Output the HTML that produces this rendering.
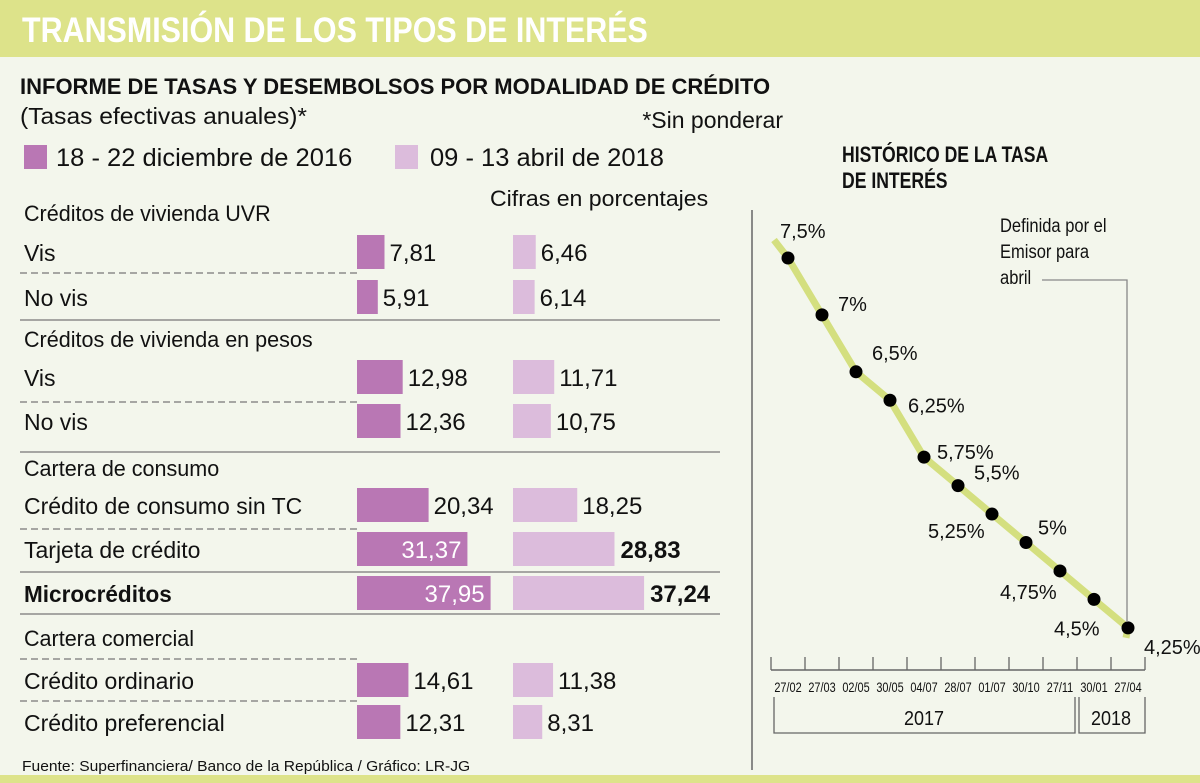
<!DOCTYPE html>
<html><head><meta charset="utf-8"><style>
html,body{margin:0;padding:0;background:#f3f6ec;}
svg{display:block;font-family:"Liberation Sans",sans-serif;}
</style></head><body>
<svg id="s" width="1200" height="783" viewBox="0 0 1200 783" xmlns="http://www.w3.org/2000/svg">
<rect x="0" y="0" width="1200" height="783" fill="#f3f6ec"/>
<rect x="0" y="0" width="1200" height="57" fill="#dde38a"/>
<rect x="0" y="775" width="1200" height="8" fill="#dde38a"/>
<line x1="752" y1="210" x2="752" y2="770" stroke="#666" stroke-width="1.5"/>
<g id="g"></g>
</svg>
<script>
// ---- left chart data ----
const rowLabels = ["Vis","No vis","Vis","No vis","Crédito de consumo sin TC","Tarjeta de crédito","Microcréditos","Crédito ordinario","Crédito preferencial"];
const series2016 = [7.81,5.91,12.98,12.36,20.34,31.37,37.95,14.61,12.31];
const series2018 = [6.46,6.14,11.71,10.75,18.25,28.83,37.24,11.38,8.31];
const valueText2016 = ["7,81","5,91","12,98","12,36","20,34","31,37","37,95","14,61","12,31"];
const valueText2018 = ["6,46","6,14","11,71","10,75","18,25","28,83","37,24","11,38","8,31"];
// ---- right chart data ----
const dateLabels = ["27/02","27/03","02/05","30/05","04/07","28/07","01/07","30/10","27/11","30/01","27/04"];
const rates = [7.5,7,6.5,6.25,5.75,5.5,5.25,5,4.75,4.5,4.25];
const rateText = ["7,5%","7%","6,5%","6,25%","5,75%","5,5%","5,25%","5%","4,75%","4,5%","4,25%"];

const NS="http://www.w3.org/2000/svg";
const g=document.getElementById('g');
function el(tag,attrs){const e=document.createElementNS(NS,tag);for(const k in attrs)e.setAttribute(k,attrs[k]);g.appendChild(e);return e;}
function txt(x,y,s,size,o){o=o||{};
  const e=el('text',{transform:`translate(${x},${y}) scale(${o.sx||1},1)`,'font-size':size,fill:o.fill||'#111','font-weight':o.w||'normal','text-anchor':o.a||'start'});
  e.textContent=s;return e;}

let e;
e=txt(22,42,"TRANSMISIÓN DE LOS TIPOS DE INTERÉS",35,{fill:'#fff',w:'bold',sx:0.87});


e=txt(20,94,"INFORME DE TASAS Y DESEMBOLSOS POR MODALIDAD DE CRÉDITO",22,{w:'bold',sx:1.0});


e=txt(20,124,"(Tasas efectivas anuales)*",23,{sx:1.07});


e=txt(783,128,"*Sin ponderar",23,{a:'end',sx:1.0});


e=el('rect',{x:24,y:145,width:23,height:24,fill:'#b977b4'});


e=txt(56,166,"18 - 22 diciembre de 2016",25,{sx:1.02});


e=el('rect',{x:395,y:145,width:23,height:24,fill:'#dcbcdc'});


e=txt(430,166,"09 - 13 abril de 2018",25,{sx:1.02});


e=txt(490,206,"Cifras en porcentajes",22,{sx:1.05});



const sections=[["Créditos de vivienda UVR",221],["Créditos de vivienda en pesos",347],["Cartera de consumo",476],["Cartera comercial",646]];
sections.forEach(s=>{e=txt(24,s[1],s[0],22,{sx:0.98});

});

const rowCenters=[252,297,377,421,505,549,593,680,722];
const sep=[[273,1],[320,0],[402,1],[452,0],[529,1],[572,0],[614,0],[659,1],[701,1]];
sep.forEach(l=>{e=el('line',{x1:20,y1:l[0],x2:l[1]?357:720,y2:l[0],stroke:'#777','stroke-width':1.3,'stroke-dasharray':l[1]?'7,4':'none'});

});

const X0a=357,X0b=513,K=3.52;
const xa=v=>v*K, xb=v=>v*K;
rowLabels.forEach((lab,i)=>{
  const cy=rowCenters[i];
  e=txt(24,cy+9,lab,23,{w:i===6?'bold':'normal',sx:i===6?0.98:1.0});
  
  
  const wa=xa(series2016[i]);
  e=el('rect',{x:X0a,y:cy-17,width:wa,height:34,fill:'#b977b4'});
  
  
  const inside=wa>100;
  e=txt(inside?X0a+wa-6:X0a+wa+5,cy+9,valueText2016[i],24,{fill:inside?'#fff':'#111',a:inside?'end':'start',sx:1.0});
  
  
  const wb=xb(series2018[i]);
  e=el('rect',{x:X0b,y:cy-17,width:wb,height:34,fill:'#dcbcdc'});
  
  
  e=txt(X0b+wb+(wb>90?6:5),cy+9,valueText2018[i],24,{w:wb>90?'bold':'normal',sx:1.0});
  
  
});
e=txt(22,771,"Fuente: Superfinanciera/ Banco de la República / Gráfico: LR-JG",15,{sx:1.04});



// right chart
e=txt(842,162,"HISTÓRICO DE LA TASA",22,{w:'bold',sx:0.8});


e=txt(842,188,"DE INTERÉS",22,{w:'bold',sx:0.8});



const px=i=>788+34*i;
const py=v=>258+(7.5-v)*113.8;
const pts=rates.map((v,i)=>[px(i),py(v)]);
const d="M"+(pts[0][0]-14)+","+(pts[0][1]-18)+" "+pts.map(p=>"L"+p[0]+","+p[1]).join(" ")+" L"+(pts[10][0]-2)+","+(pts[10][1]+10);
e=el('path',{d:d,fill:'none',stroke:'#d4df7f','stroke-width':7,'stroke-linejoin':'round'});


const off=[[-8,-28],[16,-12],[16,-20],[18,4],[13,-6],[16,-14],[-64,16],[12,-16],[-60,20],[-40,28],[16,18]];
pts.forEach((p,i)=>{
  e=el('circle',{cx:p[0],cy:p[1],r:6.5,fill:'#000'});
  
  
  e=txt(p[0]+off[i][0],p[1]+off[i][1]+8,rateText[i],20,{sx:1.0});
  
  
});
e=el('path',{d:"M1042,280 H1127 V622",fill:'none',stroke:'#888','stroke-width':1.3});


["Definida por el","Emisor para","abril"].forEach((s,i)=>{e=txt(1000,232+i*26,s,19,{sx:0.87});

});

e=el('line',{x1:771,y1:670,x2:1145,y2:670,stroke:'#666','stroke-width':1.5});


for(let i=0;i<=dateLabels.length;i++){e=el('line',{x1:771+34*i,y1:657,x2:771+34*i,y2:670,stroke:'#666','stroke-width':1.3});

}
dateLabels.forEach((s,i)=>{e=txt(px(i),692,s,14,{a:'middle',sx:0.78});

});
e=el('path',{d:"M774,697 V733 H1075 V697 M1079,697 V733 H1145 V697",fill:'none',stroke:'#666','stroke-width':1.3});


e=txt(924,725,"2017",20,{a:'middle',sx:0.9});


e=txt(1111,725,"2018",20,{a:'middle',sx:0.9});


</script>
</body></html>
